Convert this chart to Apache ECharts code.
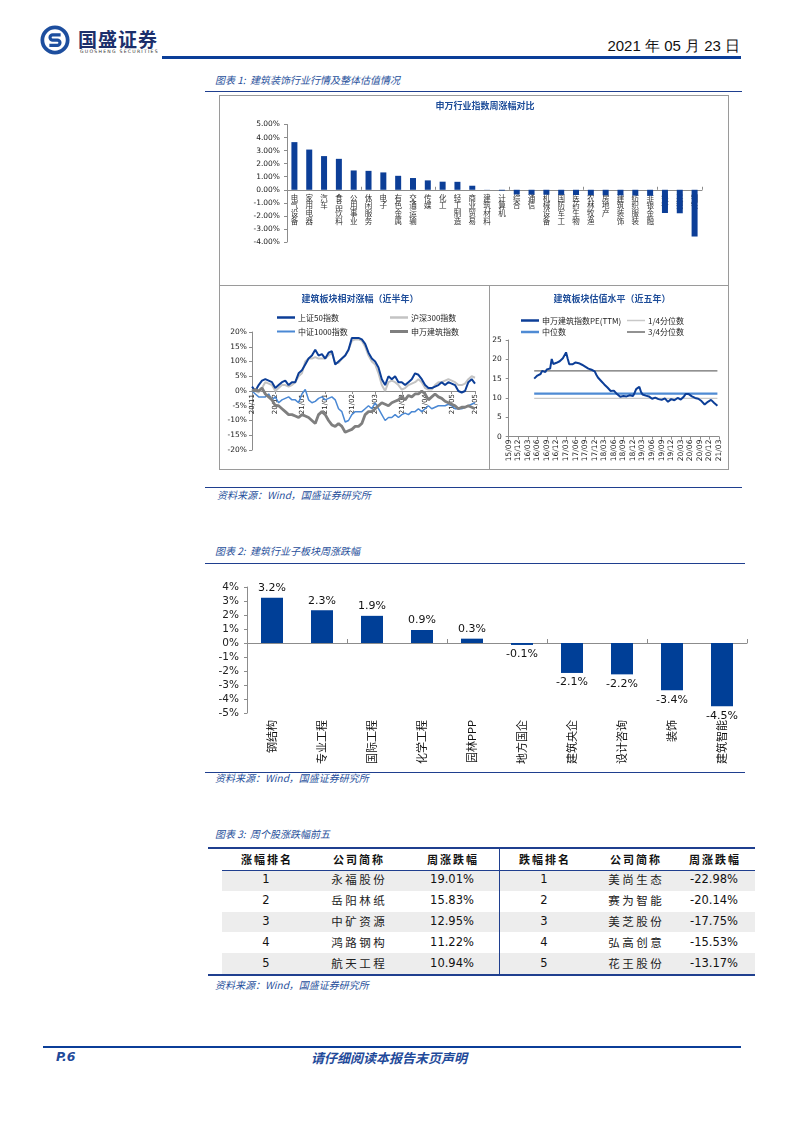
<!DOCTYPE html>
<html>
<head>
<meta charset="utf-8">
<script src="https://cdn.jsdelivr.net/npm/echarts/dist/echarts.min.js"></script>
<style>
  html, body { margin:0; padding:0; background:#fff; }
  #page { position:relative; width:793px; height:1122px; overflow:hidden; }
  .abs { position:absolute; white-space:nowrap; line-height:1; }
  .rule { position:absolute; }
  .cap { font-family:"Noto Sans CJK SC",sans-serif; font-style:italic; font-size:10px; color:#27509b; }
  #chart { position:absolute; left:0; top:0; width:793px; height:1122px; z-index:2; }
</style>
</head>
<body>
<div id="page">
  <!-- header -->
  <svg class="abs" style="left:40px;top:25px" width="30" height="30" viewBox="0 0 32 32">
    <circle cx="16" cy="16" r="13.5" fill="none" stroke="#1d4e9e" stroke-width="4"/>
    <path d="M22 10.5 H13.5 a2.8 2.8 0 0 0 0 5.6 h5 a2.8 2.8 0 0 1 0 5.6 H10" fill="none" stroke="#1d4e9e" stroke-width="3.4"/>
  </svg>
  <div class="abs" style="left:78px;top:29px;font-family:'Noto Sans CJK SC',sans-serif;font-weight:bold;font-size:19px;letter-spacing:1px;color:#1c2f6b">国盛证券</div>
  <div class="abs" style="left:80px;top:50px;font-family:'DejaVu Sans',sans-serif;font-size:4.6px;letter-spacing:1.25px;color:#333">GUOSHENG SECURITIES</div>
  <div class="abs" style="right:53px;top:38px;font-family:'Liberation Sans Narrow','Liberation Sans',sans-serif;font-size:15px;color:#111">2021 年 05 月 23 日</div>
  <div class="rule" style="left:162px;top:56px;width:579px;height:3px;background:#0b3e98"></div>

  <!-- figure 1 caption & frame -->
  <div class="abs cap" style="left:215px;top:75px">图表 1:&nbsp; 建筑装饰行业行情及整体估值情况</div>
  <div class="rule" style="left:205px;top:90.5px;width:537px;height:1.5px;background:#1f3f8f"></div>
  <div class="rule" style="left:219px;top:95px;width:508px;height:373px;border:1px solid #9a9a9a"></div>
  <div class="rule" style="left:219px;top:285px;width:509px;height:1px;background:#9a9a9a"></div>
  <div class="rule" style="left:489px;top:285px;width:1px;height:184px;background:#9a9a9a"></div>
  <div class="rule" style="left:205px;top:487px;width:537px;height:1.2px;background:#1f3f8f"></div>
  <div class="abs cap" style="left:217px;top:490px">资料来源：Wind，国盛证券研究所</div>

  <!-- figure 2 caption -->
  <div class="abs cap" style="left:215px;top:546px">图表 2:&nbsp; 建筑行业子板块周涨跌幅</div>
  <div class="rule" style="left:205px;top:562.5px;width:540px;height:1.5px;background:#1f3f8f"></div>
  <div class="rule" style="left:205px;top:771.5px;width:540px;height:1.2px;background:#1f3f8f"></div>
  <div class="abs cap" style="left:215px;top:773px">资料来源：Wind，国盛证券研究所</div>

  <!-- figure 3 caption & table -->
  <div class="abs cap" style="left:215px;top:829px">图表 3:&nbsp; 周个股涨跌幅前五</div>
  <div id="table"></div>
  <div class="abs cap" style="left:215px;top:980px">资料来源：Wind，国盛证券研究所</div>

  <!-- footer -->
  <div class="rule" style="left:43px;top:1045.5px;width:698px;height:2.5px;background:#0b3e98"></div>
  <div class="abs" style="left:56px;top:1051px;font-family:'DejaVu Sans',sans-serif;font-weight:bold;font-style:italic;font-size:12.5px;color:#1f4a9a">P.6</div>
  <div class="abs" style="left:311px;top:1051px;font-family:'Noto Sans CJK SC',sans-serif;font-weight:bold;font-style:italic;font-size:13px;color:#1f4a9a">请仔细阅读本报告末页声明</div>

  <div id="chart"></div>
</div>

<script>
// ---------------- DATA ----------------
// Chart: 申万行业指数周涨幅对比 (%)
const industryCats = ['电气设备','家用电器','汽车','食品饮料','公用事业','休闲服务','电子','有色金属','交通运输','传媒','化工','轻工制造','商业贸易','建筑材料','计算机','综合','通信','机械设备','国防军工','医药生物','农林牧渔','房地产','建筑装饰','纺织服装','非银金融','银行','采掘','钢铁'];
const industryChg = [3.65,3.08,2.58,2.37,1.48,1.45,1.33,1.07,0.90,0.72,0.62,0.61,0.31,0.01,-0.06,-0.36,-0.37,-0.38,-0.39,-0.40,-0.41,-0.42,-0.43,-0.44,-0.46,-1.78,-1.80,-3.58];

// Chart: 建筑板块相对涨幅（近半年） (%)
const relTickLabels = ['20/11','20/12','21/01','21/01','21/02','21/03','21/03','21/04','21/05','21/05'];
const relTickIdx    = [0,7,15,22,30,37,45,52,60,67];
const sz50   = [1.5,0,2,3.5,4,3.5,3,1,2,3,3.5,2,3,3,6,7,9,11,12,14,12,12.5,11,13,13.5,9,10,11,12,14,18,18,18,17.5,16,13,11,10,8,4,2,5,4,5,3,3,2,3,4,6,5.5,4,2,1,1,1.5,2,3,2,3,2.5,2,0,-0.5,0,3,4,2.5];
const hs300  = [0.5,0,-0.5,1,3,2.5,2,0,1,2,2,1.5,2,3,5,6,10,11,11,11.5,11,11,11,12,13,9.5,9.5,11,12,14,17,17.5,17.5,17,15,12,10,9,6,2,0,3,3.5,3,2,0.5,1,2,2.5,3,4,3,1,0.5,0.5,2,3,3,3.5,4,3.5,3,2,2,2.5,4,5,4.5];
const zz1000 = [0,-1,-2,-2,-2,-1,-3,-2,-4,-3,-2.5,-2,-3,-3,-4,-1,0.5,-3,-4,-3.5,-2.5,-2,-3,-2.5,-2,-3,-6,-7,-10.5,-10,-8,-7,-7,-7,-6,-5,-6,-4,-6,-8,-10,-9,-9,-8,-9,-8,-7.5,-8,-7,-7,-6,-7,-6,-5,-6,-5.5,-5,-5,-5,-4.5,-5,-6,-6,-6,-5.5,-5,-4.5,-4];
const swJz   = [0,0.5,0,1,-1,-2,-3,-5,-5,-6,-7,-8,-8,-8.5,-9,-8,-8.5,-9,-10,-11,-8,-7,-8,-10,-11.5,-12,-11,-12,-14,-13.5,-13,-12,-12,-11,-8,-7,-7,-6,-5,-4,-4.5,-5,-4,-3.5,-3,-2,-3,-1.5,-2,-1,-1,0,-1,-3,-2,-1,-2,-2.5,-3.5,-4,-4.5,-5,-6,-5.5,-5.5,-5,-5.5,-6];

// Chart: 建筑板块估值水平（近五年） PE(TTM), half-month slots from 15/09
const peTickLabels = ['15/09','15/12','16/03','16/06','16/09','16/12','17/03','17/06','17/09','17/12','18/03','18/06','18/09','18/12','19/03','19/06','19/09','19/12','20/03','20/06','20/09','20/12','21/03'];
const peStart = 16;
const peValues = [15.0,15.3,15.8,15.6,16.2,17.0,16.9,16.7,17.4,17.2,
  17.6,20.1,18.8,19.0,19.1,18.7,19.5,20.0,20.3,20.7,
  21.8,20.2,18.7,18.5,18.7,18.9,19.2,19.4,19.0,18.8,
  18.6,18.3,18.1,17.9,17.6,17.4,17.3,17.2,16.9,16.0,
  15.3,14.9,14.4,13.9,13.5,13.1,12.7,12.3,11.8,11.3,
  11.9,11.8,11.0,10.7,10.3,10.5,10.5,10.2,10.4,10.6,
  10.7,10.4,10.5,11.3,12.3,12.7,12.9,11.6,10.9,10.7,
  10.6,10.5,10.4,10.0,9.8,9.9,10.1,9.9,9.7,9.6,
  9.5,9.7,9.9,9.5,9.0,9.3,9.7,9.6,9.4,9.6,
  10.0,9.8,9.6,9.7,10.4,11.0,11.4,11.0,10.7,10.4,
  10.2,10.0,9.7,9.8,9.8,9.2,8.7,8.3,8.4,9.0,
  9.3,9.5,9.3,8.7,8.2,8.0];
const peQ1 = 9.9, peMedian = 11.1, peQ3 = 17.0;

// Chart: 建筑行业子板块周涨跌幅 (%)
const subCats = ['钢结构','专业工程','国际工程','化学工程','园林PPP','地方国企','建筑央企','设计咨询','装饰','建筑智能'];
const subChg  = [3.24,2.34,1.94,0.93,0.31,-0.14,-2.14,-2.24,-3.38,-4.52];

// Table: 周个股涨跌幅前五
const tableHeader = ['涨幅排名','公司简称','周涨跌幅','跌幅排名','公司简称','周涨跌幅'];
const gainRank  = ['1','2','3','4','5'];
const gainNames = ['永福股份','岳阳林纸','中矿资源','鸿路钢构','航天工程'];
const gainChg   = ['19.01%','15.83%','12.95%','11.22%','10.94%'];
const lossRank  = ['1','2','3','4','5'];
const lossNames = ['美尚生态','赛为智能','美芝股份','弘高创意','花王股份'];
const lossChg   = ['-22.98%','-20.14%','-17.75%','-15.53%','-13.17%'];

// ---------------- TABLE ----------------
(function(){
  const t = document.getElementById('table');
  const colX = [266,358,452,544,635,714];
  const top0 = 848, headH = 22, rowH = 20.8;
  let html = '';
  for (let r = 0; r < 5; r++) {
    if (r % 2 === 0) html += `<div class="rule" style="left:222px;top:${top0+headH+r*rowH}px;width:533px;height:${rowH}px;background:#ededed"></div>`;
  }
  html += `<div class="rule" style="left:208px;top:${top0-1}px;width:547px;height:2px;background:#1f3f8f"></div>`;
  html += `<div class="rule" style="left:222px;top:${top0+headH}px;width:533px;height:1px;background:#1f3f8f"></div>`;
  html += `<div class="rule" style="left:208px;top:${top0+headH+5*rowH}px;width:547px;height:2px;background:#1f3f8f"></div>`;
  html += `<div class="rule" style="left:498.5px;top:${top0}px;width:1.5px;height:${headH+5*rowH}px;background:#1f3f8f"></div>`;
  const cell = (txt, cx, cy, style) => `<div class="abs" style="left:${cx-60}px;width:120px;text-align:center;top:${cy}px;transform:translateY(-50%);${style}">${txt}</div>`;
  const hStyle = "font-family:'Noto Sans CJK SC',sans-serif;font-weight:bold;font-size:11px;letter-spacing:2px;text-indent:2px;color:#111";
  tableHeader.forEach((h,i) => html += cell(h, colX[i], top0+headH/2, hStyle));
  const nStyle = "font-family:'DejaVu Sans',sans-serif;font-size:11.5px;color:#111";
  const cStyle = "font-family:'Noto Sans CJK SC',sans-serif;font-size:11.5px;letter-spacing:2.5px;text-indent:2.5px;color:#222";
  for (let r = 0; r < 5; r++) {
    const cy = top0 + headH + r*rowH + rowH/2;
    html += cell(gainRank[r], colX[0], cy, nStyle);
    html += cell(gainNames[r], colX[1], cy, cStyle);
    html += cell(gainChg[r], colX[2], cy, nStyle);
    html += cell(lossRank[r], colX[3], cy, nStyle);
    html += cell(lossNames[r], colX[4], cy, cStyle);
    html += cell(lossChg[r], colX[5], cy, nStyle);
  }
  t.innerHTML = html;
})();

// ---------------- CHARTS ----------------
const FONT = '"DejaVu Sans","Noto Sans CJK SC",sans-serif';
const CJK = '"Noto Sans CJK SC",sans-serif';
const DARK = '#0c3e97';
const AX = '#8c8c8c';
const TITLE = '#1f4e9a';

const relCats = sz50.map((_, i) => String(i));
const relLabelMap = {};
relTickIdx.forEach((idx, k) => relLabelMap[idx] = relTickLabels[k]);

const peLen = (peTickLabels.length - 1) * 6 + 1;
const peCats = Array.from({length: peLen}, (_, i) => i % 6 === 0 ? peTickLabels[i / 6] : '');
const peData = Array.from({length: peLen}, (_, i) => (i >= peStart && i - peStart < peValues.length) ? peValues[i - peStart] : null);
const q1Line  = peData.map(v => v === null ? null : peQ1);
const medLine = peData.map(v => v === null ? null : peMedian);
const q3Line  = peData.map(v => v === null ? null : peQ3);

// grids
const G1 = { left: 287, top: 124.5, width: 415, height: 117.5 };
const G2 = { left: 252, top: 332, width: 223, height: 118 };
const G3 = { left: 508.7, top: 340, width: 210.3, height: 96.6 };
const G4 = { left: 247, top: 587, width: 500, height: 126 };
// offset of the zero line above the grid bottom (labels placed on the zero line)
const zeroOff1 = G1.height * (0 - (-4)) / (5 - (-4));
const zeroOff2 = G2.height * (0 - (-20)) / (20 - (-20));

function legendItem(name, x, yc, h) {
  return {
    data: [name], left: x, top: yc - 4.5, padding: 0, itemGap: 0,
    icon: 'rect', itemWidth: 18, itemHeight: h, selectedMode: false,
    itemStyle: { borderWidth: 0 },
    textStyle: { fontSize: 8, color: '#222', fontFamily: CJK, padding: [0, 0, 0, -2] }
  };
}
function valAxis(grid, min, max, interval, fmt, fs, margin) {
  return {
    gridIndex: grid, type: 'value', min, max, interval,
    axisLine: { show: true, lineStyle: { color: AX, width: 1 } },
    axisTick: { show: true, length: 3, lineStyle: { color: AX } },
    splitLine: { show: false },
    axisLabel: { fontSize: fs, color: '#222', fontFamily: FONT, margin, formatter: fmt, showMinLabel: true, showMaxLabel: true, hideOverlap: false }
  };
}
function lineSeries(name, xi, yi, data, color, width) {
  return {
    type: 'line', name, xAxisIndex: xi, yAxisIndex: yi, data, symbol: 'none', showSymbol: false,
    lineStyle: { color, width }, itemStyle: { color }, emphasis: { disabled: true }
  };
}

const chart = echarts.init(document.getElementById('chart'), null, { renderer: 'canvas' });
chart.setOption({
  animation: false,
  backgroundColor: 'transparent',
  textStyle: { fontFamily: FONT },
  title: [
    { text: '申万行业指数周涨幅对比', left: 485, top: 101, textAlign: 'center', padding: 0, textStyle: { fontSize: 9, fontWeight: 'bold', color: TITLE, fontFamily: CJK } },
    { text: '建筑板块相对涨幅（近半年）', left: 360, top: 294, textAlign: 'center', padding: 0, textStyle: { fontSize: 9, fontWeight: 'bold', color: TITLE, fontFamily: CJK } },
    { text: '建筑板块估值水平（近五年）', left: 612, top: 294, textAlign: 'center', padding: 0, textStyle: { fontSize: 9, fontWeight: 'bold', color: TITLE, fontFamily: CJK } }
  ],
  legend: [
    legendItem('上证50指数', 277, 318, 2.5),
    legendItem('沪深300指数', 390, 318, 2.5),
    legendItem('中证1000指数', 277, 332, 2),
    legendItem('申万建筑指数', 390, 332, 3),
    legendItem('申万建筑指数PE(TTM)', 521, 321, 2.5),
    legendItem('1/4分位数', 627, 321, 1.5),
    legendItem('中位数', 521, 332.5, 2.5),
    legendItem('3/4分位数', 627, 332.5, 1.5)
  ],
  grid: [G1, G2, G3, G4],
  xAxis: [
    // 0: chart1 zero line + ticks
    { gridIndex: 0, type: 'category', data: industryCats, position: 'bottom',
      axisLine: { show: true, onZero: true, lineStyle: { color: AX } },
      axisTick: { show: true, inside: true, length: 3, lineStyle: { color: AX } },
      axisLabel: { show: false } },
    // 1: chart1 labels on the zero line
    { gridIndex: 0, type: 'category', data: industryCats, position: 'bottom', offset: -zeroOff1,
      axisLine: { show: false, onZero: false }, axisTick: { show: false },
      axisLabel: { interval: 0, rotate: 0, fontSize: 7.5, lineHeight: 7.8, color: '#333', fontFamily: CJK, margin: 4,
        formatter: v => v.split('').join('\n') } },
    // 2: chart2 zero line + ticks
    { gridIndex: 1, type: 'category', boundaryGap: false, data: relCats, position: 'bottom',
      axisLine: { show: true, onZero: true, lineStyle: { color: AX } },
      axisTick: { show: true, interval: i => relLabelMap[i] !== undefined, length: 3, lineStyle: { color: AX } },
      axisLabel: { show: false } },
    // 3: chart2 labels on the zero line
    { gridIndex: 1, type: 'category', boundaryGap: false, data: relCats, position: 'bottom', offset: -zeroOff2,
      axisLine: { show: false, onZero: false }, axisTick: { show: false },
      axisLabel: { interval: 0, rotate: 90, fontSize: 7, color: '#222', fontFamily: FONT, margin: 3, hideOverlap: false,
        formatter: (v, i) => relLabelMap[i] || '' } },
    // 4: chart3
    { gridIndex: 2, type: 'category', boundaryGap: false, data: peCats, position: 'bottom',
      axisLine: { show: true, lineStyle: { color: AX } },
      axisTick: { show: true, interval: i => i % 6 === 0, length: 3, lineStyle: { color: AX } },
      axisLabel: { interval: 0, rotate: 90, fontSize: 7.5, color: '#222', fontFamily: FONT, margin: 3, hideOverlap: false } },
    // 5: chart4 labels at bottom
    { gridIndex: 3, type: 'category', data: subCats, position: 'bottom',
      axisLine: { show: false, onZero: false }, axisTick: { show: false },
      axisLabel: { interval: 0, rotate: 90, fontSize: 11, color: '#111', fontFamily: CJK, margin: 7 } },
    // 6: chart4 zero line + ticks
    { gridIndex: 3, type: 'category', data: subCats, position: 'bottom',
      axisLine: { show: true, onZero: true, lineStyle: { color: AX } },
      axisTick: { show: true, inside: true, length: 4, lineStyle: { color: AX } },
      axisLabel: { show: false } }
  ],
  yAxis: [
    valAxis(0, -4, 5, 1, v => v.toFixed(2) + '%', 7.5, 7),
    valAxis(1, -20, 20, 5, v => v + '%', 7.5, 5),
    valAxis(2, 0, 25, 5, v => String(v), 7.5, 7),
    valAxis(3, -5, 4, 1, v => v + '%', 10.5, 8)
  ],
  series: [
    { type: 'bar', xAxisIndex: 0, yAxisIndex: 0, data: industryChg, barWidth: 6, itemStyle: { color: DARK }, emphasis: { disabled: true } },
    lineSeries('沪深300指数', 2, 1, hs300, '#c3c3c3', 2),
    lineSeries('上证50指数', 2, 1, sz50, DARK, 2),
    lineSeries('中证1000指数', 2, 1, zz1000, '#4a88d4', 1.5),
    lineSeries('申万建筑指数', 2, 1, swJz, '#7f7f7f', 2.8),
    lineSeries('1/4分位数', 4, 2, q1Line, '#c8c8c8', 1.3),
    lineSeries('中位数', 4, 2, medLine, '#4f8bd4', 2.3),
    lineSeries('3/4分位数', 4, 2, q3Line, '#6e6e6e', 1.3),
    lineSeries('申万建筑指数PE(TTM)', 4, 2, peData, DARK, 2),
    { type: 'bar', xAxisIndex: 5, yAxisIndex: 3, barWidth: 22, itemStyle: { color: '#003f97' }, emphasis: { disabled: true },
      data: subChg.map(v => ({ value: v, label: { position: v >= 0 ? 'top' : 'bottom' } })),
      label: { show: true, fontSize: 11, color: '#111', fontFamily: FONT, distance: 4, formatter: p => p.value.toFixed(1) + '%' } }
  ]
});
</script>
</body>
</html>
